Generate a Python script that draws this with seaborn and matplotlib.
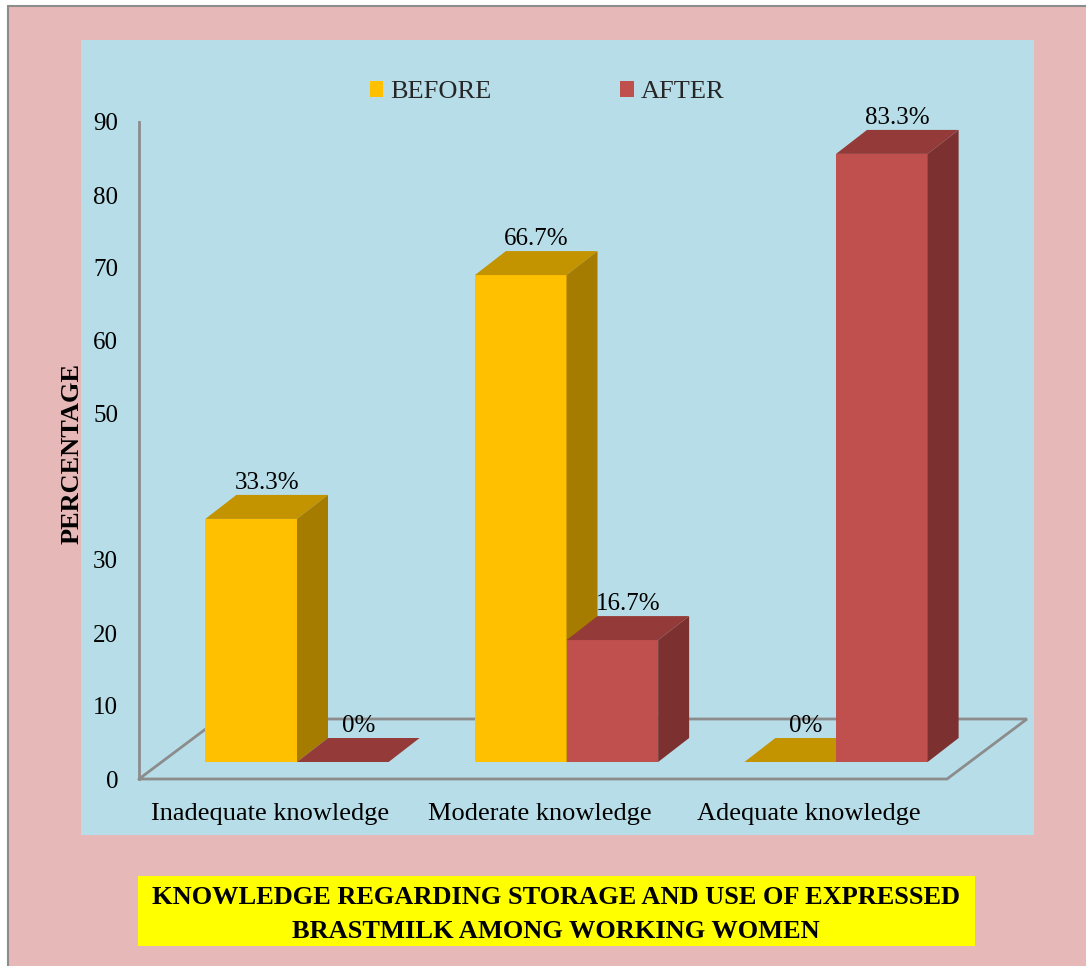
import matplotlib
matplotlib.use("Agg")
import matplotlib.pyplot as plt
import matplotlib.transforms as mtransforms
from matplotlib.patches import Polygon, Rectangle
import pandas as pd
import seaborn as sns

# ---- data -------------------------------------------------------------
categories = ["Inadequate knowledge", "Moderate knowledge", "Adequate knowledge"]
groups = ["BEFORE", "AFTER"]
before = [33.3, 66.7, 0.0]
after = [0.0, 16.7, 83.3]
y_ticks = [0, 10, 20, 30, 40, 50, 60, 70, 80, 90]
y_tick_labels = ["0", "10", "20", "30", "", "50", "60", "70", "80", "90"]
title_lines = ["KNOWLEDGE REGARDING STORAGE AND USE OF EXPRESSED",
               "BRASTMILK AMONG WORKING WOMEN"]

df = pd.DataFrame({
    "category": categories * 2,
    "group": [groups[0]] * len(categories) + [groups[1]] * len(categories),
    "value": before + after,
})

# ---- style ------------------------------------------------------------
sns.set_theme(style="white")
plt.rcParams["font.family"] = ["Liberation Serif", "DejaVu Serif"]

front = {"BEFORE": "#ffc000", "AFTER": "#c0504d"}
top_c = {"BEFORE": "#c49300", "AFTER": "#943b39"}
side_c = {"BEFORE": "#a67c00", "AFTER": "#7c3130"}
grey = "#8c8c8c"

W, H = 1086, 966
fig = plt.figure(figsize=(W / 100, H / 100), dpi=100)
fig.patch.set_facecolor("white")


def fbox(x0, y0, x1, y1):
    """Figure-fraction box from pixel edges measured from the top-left."""
    return [x0 / W, 1 - y1 / H, (x1 - x0) / W, (y1 - y0) / H]


# pink page with a thin grey frame
fig.add_artist(Rectangle((8 / W, -0.01), 1.0, 1.01 - 6 / H, transform=fig.transFigure,
                         facecolor="#e6b9b8", edgecolor=grey, lw=1.5, zorder=0))

# ---- plot area ----------------------------------------------------------
ax = fig.add_axes(fbox(81, 40, 1034, 835))
ax.set_facecolor("#b7dee8")

sns.barplot(data=df, x="category", y="value", hue="group", order=categories,
            hue_order=groups, palette=front, saturation=1, width=0.68,
            errorbar=None, legend=False, linewidth=0, ax=ax)

# pixel geometry of the pseudo-3D scene
px_cat, cx0, zero_px, px_val = 269.5, 297, 762, 7.3
ax.set_xlim((81 - cx0) / px_cat, (1034 - cx0) / px_cat)
ax.set_ylim((zero_px - 835) / px_val, (zero_px - 40) / px_val)
ddx, ddy = 31 / px_cat, 24 / px_val          # bar depth

# floor outline
fy0 = (zero_px - 779) / px_val
fy1 = fy0 + 60 / px_val
fx0 = (139 - cx0) / px_cat
fx1 = (947 - cx0) / px_cat
fdx = 80 / px_cat
ax.plot([fx0, fx1, fx1 + fdx, fx0 + fdx, fx0], [fy0, fy0, fy1, fy1, fy0],
        color=grey, lw=2, zorder=1, solid_joinstyle="miter")

# extrude each bar: front (seaborn patch), top and side faces
bars = sorted(ax.patches, key=lambda p: p.get_x())
for k, p in enumerate(bars):
    x, w, h = p.get_x(), p.get_width(), p.get_height()
    centre = x + w / 2
    grp = groups[0] if centre < round(centre) else groups[1]
    z = 2 + k * 0.1
    p.set_zorder(z)
    ax.add_patch(Polygon([(x, h), (x + w, h), (x + w + ddx, h + ddy), (x + ddx, h + ddy)],
                         closed=True, facecolor=top_c[grp], edgecolor="none", zorder=z))
    if h > 0:
        ax.add_patch(Polygon([(x + w, 0), (x + w + ddx, ddy), (x + w + ddx, h + ddy), (x + w, h)],
                             closed=True, facecolor=side_c[grp], edgecolor="none", zorder=z))
    ax.text(centre + ddx / 2, h + ddy + 0.1, f"{h:g}%", ha="center", va="bottom",
            fontsize=18, color="black", zorder=10)

for s in ax.spines.values():
    s.set_visible(False)
ax.set_xlabel("")
ax.set_ylabel("")
ax.set_yticks([])
ax.tick_params(axis="x", length=0, pad=0, labelsize=19, labelcolor="black")
shift = mtransforms.ScaledTranslation(-27 / 100, 32 / 100, fig.dpi_scale_trans)
for lab in ax.get_xticklabels():
    lab.set_transform(lab.get_transform() + shift)

# legend
handles = [Rectangle((0, 0), 1, 1, facecolor=front[g], edgecolor="none") for g in groups]
ax.legend(handles, groups, loc="center", bbox_to_anchor=(547 / W, 1 - 92 / H),
          bbox_transform=fig.transFigure, ncol=2, frameon=False, fontsize=19,
          handlelength=0.5, handleheight=0.6, handletextpad=0.25,
          columnspacing=4.9, borderpad=0)

# ---- value axis on the front plane ------------------------------------------
ax_y = fig.add_axes(fbox(139, 122, 140, 779))
ax_y.patch.set_alpha(0)
ax_y.set_ylim(0, 90)
ax_y.set_yticks(y_ticks, y_tick_labels)
ax_y.set_xticks([])
for name, s in ax_y.spines.items():
    s.set_visible(name == "left")
ax_y.spines["left"].set_color(grey)
ax_y.spines["left"].set_linewidth(2)
ax_y.tick_params(axis="y", direction="out", length=5, width=1.5, color=grey,
                 pad=10, labelsize=18, labelcolor="black")

fig.text(72 / W, 1 - 454 / H, "PERCENTAGE", rotation=90, ha="center", va="center",
         fontsize=19, fontweight="bold", color="black")

# ---- caption -------------------------------------------------------------------
fig.add_artist(Rectangle((138 / W, 1 - 946 / H), (975 - 138) / W, 70 / H,
                         transform=fig.transFigure, facecolor="#ffff00",
                         edgecolor="none", zorder=1))
for line, ypx in zip(title_lines, [897, 932]):
    fig.text(556 / W, 1 - ypx / H, line, ha="center", va="center", fontsize=19,
             fontweight="bold", color="black", zorder=2)

fig.savefig("out.png", dpi=100)
